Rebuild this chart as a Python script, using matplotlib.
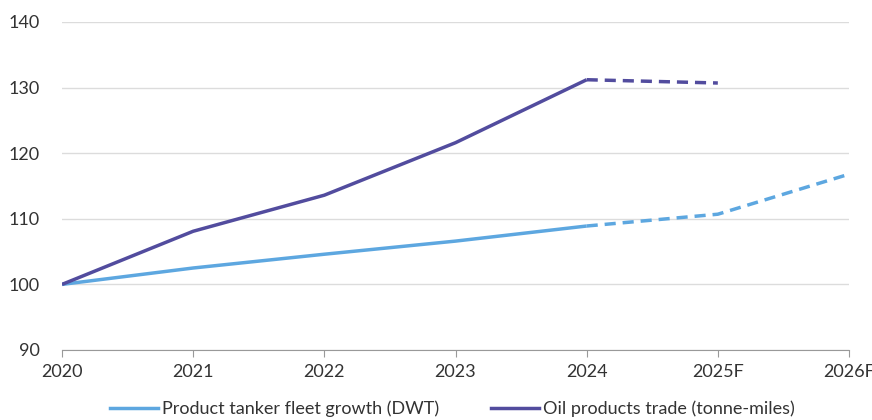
import matplotlib
matplotlib.use("Agg")
import matplotlib.pyplot as plt
from matplotlib.lines import Line2D

# ----------------------------- data -----------------------------------------
YEARS = ["2020", "2021", "2022", "2023", "2024", "2025F", "2026F"]
FLEET = [100.0, 102.5, 104.6, 106.6, 108.9, 110.7, 116.8]      # DWT index
TRADE = [100.0, 108.1, 113.6, 121.6, 131.2, 130.7, None]       # tonne-miles index
N_ACTUAL = 5                                                    # 2020..2024 actuals

C_FLEET = "#5DA7E0"
C_TRADE = "#524C9E"
GRID = "#dcdcdc"
TXT = "#333333"

plt.rcParams.update({"font.family": ["Lato", "DejaVu Sans"], "font.size": 13})

fig = plt.figure(figsize=(8.72, 4.2), dpi=100)
ax = fig.add_axes([62 / 872, 1 - 350 / 420, (849 - 62) / 872, (350 - 22) / 420])

x = list(range(len(YEARS)))


def draw(vals, color):
    pts = [(i, v) for i, v in zip(x, vals) if v is not None]
    act = pts[:N_ACTUAL]
    fc = pts[N_ACTUAL - 1:]
    ax.plot([p[0] for p in act], [p[1] for p in act], color=color, lw=2.5,
            solid_capstyle="butt", zorder=3)
    ax.plot([p[0] for p in fc], [p[1] for p in fc], color=color, lw=2.5,
            ls=(0, (3.2, 2.0)), zorder=3)


draw(FLEET, C_FLEET)
draw(TRADE, C_TRADE)

ax.set_xlim(0, len(YEARS) - 1)
ax.set_ylim(90, 140)
ax.set_yticks(range(90, 141, 10))
ax.set_xticks(x)
ax.set_xticklabels(YEARS)
ax.yaxis.grid(True, color=GRID, lw=1)
ax.set_axisbelow(True)
for s in ("left", "right", "top"):
    ax.spines[s].set_visible(False)
ax.spines["bottom"].set_color("#999999")
ax.tick_params(axis="y", length=0, pad=16, labelcolor=TXT, labelsize=13)
ax.tick_params(axis="x", length=5, color="#999999", pad=5, labelcolor=TXT,
               labelsize=13)

handles = [Line2D([], [], color=C_FLEET, lw=2.5),
           Line2D([], [], color=C_TRADE, lw=2.5)]
labels = ["Product tanker fleet growth (DWT)", "Oil products trade (tonne-miles)"]
leg = fig.legend(handles, labels, loc="center", bbox_to_anchor=(0.519, 1 - 409 / 420),
                 ncol=2, frameon=False, handlelength=2.65, handletextpad=0.2,
                 columnspacing=2.9, fontsize=13)
for t in leg.get_texts():
    t.set_color(TXT)

fig.savefig("out.png", dpi=100)
